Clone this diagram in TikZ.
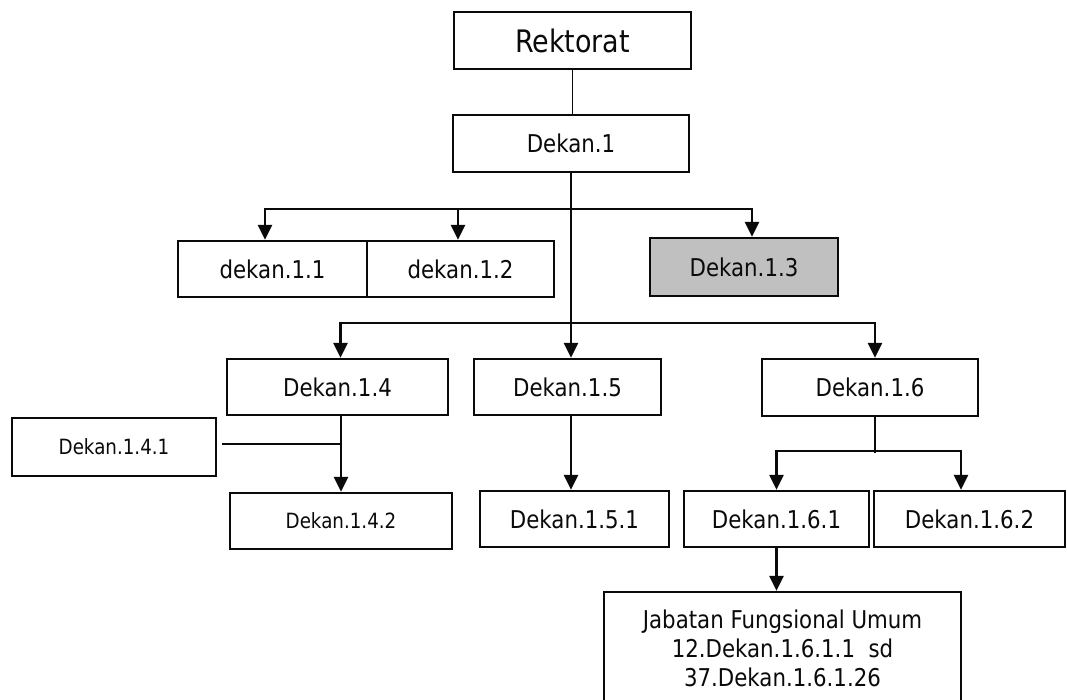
\documentclass[tikz,border=0pt]{standalone}
\usepackage{fontspec}
\setmainfont{DejaVu Sans}[FakeStretch=0.87]
\usetikzlibrary{arrows.meta}
\definecolor{boxgray}{RGB}{192,192,192}
\definecolor{ink}{RGB}{10,10,10}
\tikzset{
  orgbox/.style={draw=ink, line width=2.3pt, inner sep=0pt, align=center, text=ink,
    font=\fontsize{24.5}{29}\selectfont},
  bigtext/.style={font=\fontsize{31}{36}\selectfont},
  smalltext/.style={font=\fontsize{21}{25}\selectfont},
  arr/.style={draw=ink, line width=2.4pt, -{Triangle[width=14pt,length=15pt]}},
  thinline/.style={draw=ink, line width=1.8pt},
}
\begin{document}
\begin{tikzpicture}[x=1pt,y=-1pt]
\useasboundingbox (0,0) rectangle (1067,699);
\fill[white] (0,0) rectangle (1067,699);
\clip (0,0) rectangle (1067,699);

% boxes
\node[orgbox,bigtext,minimum width=237pt,minimum height=57pt] (rek) at (572.5,40.5) {Rektorat};
\node[orgbox,minimum width=236pt,minimum height=57pt] (d1) at (571,143.5) {Dekan.1};
\node[orgbox,minimum width=189pt,minimum height=56pt] (d11) at (272.5,269) {dekan.1.1};
\node[orgbox,minimum width=187pt,minimum height=56pt] (d12) at (460.5,269) {dekan.1.2};
\node[orgbox,fill=boxgray,minimum width=188pt,minimum height=58pt] (d13) at (744,267) {Dekan.1.3};
\node[orgbox,minimum width=221pt,minimum height=56pt] (d14) at (337.5,387) {Dekan.1.4};
\node[orgbox,minimum width=187pt,minimum height=56pt] (d15) at (567.5,387) {Dekan.1.5};
\node[orgbox,minimum width=216pt,minimum height=57pt] (d16) at (870,387.5) {Dekan.1.6};
\node[orgbox,smalltext,minimum width=204pt,minimum height=58pt] (d141) at (114,447) {Dekan.1.4.1};
\node[orgbox,smalltext,minimum width=222pt,minimum height=56pt] (d142) at (341,521) {Dekan.1.4.2};
\node[orgbox,minimum width=189pt,minimum height=56pt] (d151) at (574.5,519) {Dekan.1.5.1};
\node[orgbox,minimum width=185pt,minimum height=56pt] (d161) at (776.5,519) {Dekan.1.6.1};
\node[orgbox,minimum width=191pt,minimum height=56pt] (d162) at (969.5,519) {Dekan.1.6.2};
\node[orgbox,minimum width=357pt,minimum height=112pt] (jfu) at (782.5,648)
  {Jabatan Fungsional Umum\\12.Dekan.1.6.1.1\ \ sd\\37.Dekan.1.6.1.26};

% junctions
\coordinate (j1) at (571,209);
\coordinate (j2) at (571,323);
\coordinate (j3) at (341,444);
\coordinate (j4) at (875,451);

% connectors
\draw[thinline] (rek.south) -- (rek.south |- d1.north);
\draw[arr] (d1.south) -- (d1.south |- d15.north);
\draw[arr] (j1) -| ([xshift=-7.5pt]d11.north);
\draw[arr] (j1) -| ([xshift=-2.5pt]d12.north);
\draw[arr] (j1) -| ([xshift=8pt]d13.north);
\draw[arr] (j2) -| ([xshift=3pt]d14.north);
\draw[arr] (j2) -| ([xshift=5pt]d16.north);
\draw[arr] (d142.north |- d14.south) -- (d142.north);
\draw[thinline] (j3) -- ([xshift=5pt]j3 -| d141.east);
\draw[arr] ([xshift=3.5pt]d15.south) -- ([xshift=-3.5pt]d151.north);
\draw[thinline] ([xshift=5pt]d16.south) -- ([yshift=-2pt]j4);
\draw[arr] (j4) -| (d161.north);
\draw[arr] (j4) -| ([xshift=-8.5pt]d162.north);
\draw[arr] (d161.south) -- (d161.south |- jfu.north);
\end{tikzpicture}
\end{document}
